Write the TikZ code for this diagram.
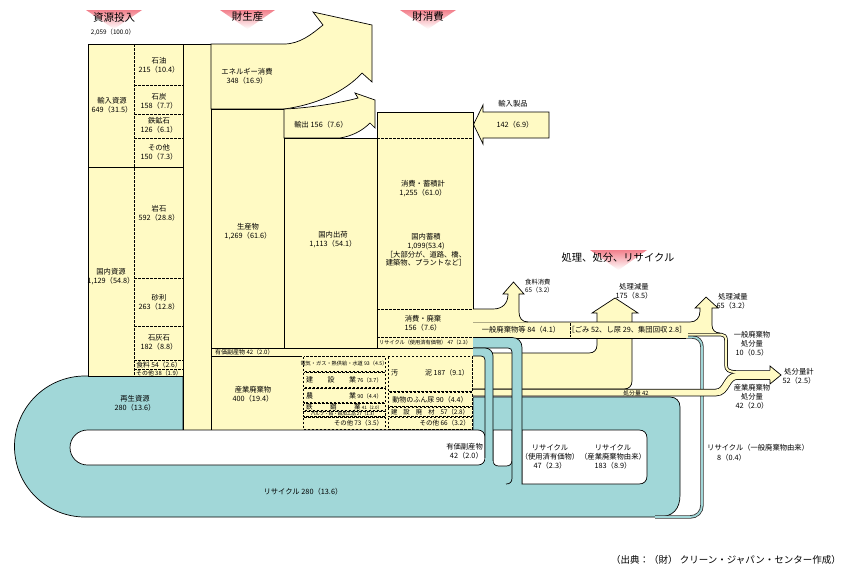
\documentclass[tikz,border=0pt]{standalone}
\usepackage{fontspec}
\setmainfont{Noto Sans CJK JP}
\definecolor{yel}{RGB}{255,250,196}
\definecolor{tea}{RGB}{161,215,216}
\definecolor{pk}{RGB}{242,128,140}
\begin{document}
\begin{tikzpicture}[x=1pt,y=-1pt,
 ol/.style={draw=black,line width=0.7pt},
 dsh/.style={draw=black,line width=0.6pt,dash pattern=on 2.5pt off 1.5pt},
 lb/.style={inner sep=0pt,align=center,font=\fontsize{7.3}{9}\selectfont},
 lbs/.style={inner sep=0pt,align=center,font=\fontsize{6.3}{8}\selectfont},
 tny/.style={inner sep=0pt,font=\fontsize{5.2}{6}\selectfont},
 ttl/.style={inner sep=0pt,font=\fontsize{10.5}{12}\selectfont},
 tri/.style={top color=pk,bottom color=white,draw=none}]
\useasboundingbox (0,0) rectangle (853,576);
\fill[white] (0,0) rectangle (853,576);
% title triangles
\shade[tri] (86,10) -- (142,10) -- (114,29) -- cycle;
\shade[tri] (220,10) -- (275,10) -- (247.5,29) -- cycle;
\shade[tri] (400,10) -- (456,10) -- (428,29) -- cycle;
\shade[tri] (590,250) -- (647,250) -- (618.5,270) -- cycle;
% teal recycle loop
\filldraw[fill=tea,ol] (183,376) -- (85,376) .. controls (46.1,376) and (14.5,407.6) .. (14.5,446.5) .. controls (14.5,485.4) and (46.1,517) .. (85,517) -- (658,517) .. controls (673,517) and (680,509) .. (680,495) -- (680,407) .. controls (680,401) and (676,397) .. (670,397) -- (473,397) -- (473,430) -- (183,430) -- cycle;
% column 1-2
\fill[yel] (88,44) rectangle (183,376);
\draw[ol] (88,44) rectangle (183,376);
\draw[dsh] (134,44) -- (134,376);
\draw[ol] (88,167) -- (183,167);
\foreach \yy in {85,114,138,278,326,360,369} \draw[dsh] (134,\yy) -- (183,\yy);
% column 3
\filldraw[fill=yel,ol] (183,44) rectangle (211,430);
% energy arrow
\filldraw[fill=yel,ol] (211,44) -- (284,44) .. controls (300,44) and (312,34) .. (323,25) -- (313,12) -- (372,25) -- (372,82) -- (362,73) .. controls (345,92) and (315,105) .. (284,109) -- (211,109) -- cycle;
\filldraw[fill=yel,ol] (211,109) rectangle (284,348);
% export arrow
\filldraw[fill=yel,ol] (284,109) .. controls (310,108) and (340,103) .. (358,98) -- (355,93) -- (375,100) -- (375,128) -- (370,123) .. controls (362,131) and (352,136) .. (340,138) -- (284,138) -- cycle;
\filldraw[fill=yel,ol] (284,138) rectangle (377,348);
% column 6
\fill[yel] (377,112) rectangle (473,348);
\draw[ol] (473,309) -- (473,112) -- (377,112) -- (377,348);
\draw[dsh] (377,138) -- (473,138);
\draw[dsh] (377,309) -- (473,309);
\draw[dsh] (377,337) -- (473,337);
% import products arrow
\filldraw[fill=yel,ol] (549,112) -- (483,112) -- (483,105) -- (473.5,124.5) -- (483,144) -- (483,138) -- (549,138) -- cycle;
% by-product row
\fill[yel] (211,348) rectangle (473,356);
\draw[ol] (473,348) -- (211,348) -- (211,356) -- (473,356);
% industrial waste
\filldraw[fill=yel,ol] (211,356) rectangle (302,430);
\fill[yel] (302,356) rectangle (473,430);
\draw[dsh] (303.5,356.5) rectangle (385,371.5);
\draw[dsh] (303.5,372.5) rectangle (385,387.5);
\draw[dsh] (303.5,388.5) rectangle (385,402.5);
\draw[dsh] (303.5,403.5) rectangle (385,410.5);
\draw[dsh] (303.5,411) rectangle (385,416.5);
\draw[dsh] (303.5,417.5) rectangle (385,429.5);
\draw[dsh] (388,356.5) rectangle (472,391.5);
\draw[dsh] (388,392.5) rectangle (472,406.5);
\draw[dsh] (388,407.5) rectangle (472,416.5);
\draw[dsh] (388,417.5) rectangle (472,429.5);
% white holes
\filldraw[fill=white,ol] (478,430) .. controls (482,430) and (485,433) .. (485,437) -- (485,458) .. controls (485,462) and (482,465) .. (478,465) -- (87.5,465) .. controls (77.8,465) and (70,457.2) .. (70,447.5) .. controls (70,437.8) and (77.8,430) .. (87.5,430) -- cycle;
\filldraw[fill=white,ol] (493,430) -- (512,430) -- (512,460) .. controls (512,464) and (510,466) .. (506,466) -- (499,466) .. controls (495,466) and (493,464) .. (493,460) -- cycle;
\filldraw[fill=white,ol] (522,430) -- (639,430) .. controls (644,430) and (647,433) .. (647,438) -- (647,476) .. controls (647,481) and (644,484) .. (639,484) -- (522,484) -- cycle;
% treatment reduction flow 175
\fill[yel] (473,353) -- (589,353) .. controls (594,353) and (597,350) .. (597,345) -- (597,313) -- (592,313) -- (615,298) -- (638,313) -- (632,313) -- (632,381) .. controls (632,386) and (629,389) .. (624,389) -- (473,389) -- cycle;
\draw[ol] (473,353) -- (589,353) .. controls (594,353) and (597,350) .. (597,345) -- (597,313) -- (592,313) -- (615,298) -- (638,313) -- (632,313) -- (632,381) .. controls (632,386) and (629,389) .. (624,389) -- (473,389);
% recycle pipe from general waste (8)
\draw[black!80,line width=3.4pt] (684,337) -- (692,337) .. controls (698,337) and (702,341) .. (702,347) -- (702,505) .. controls (702,512) and (697,517) .. (690,517) -- (655,517);
\draw[tea,line width=1.8pt] (684,337) -- (692,337) .. controls (698,337) and (702,341) .. (702,347) -- (702,505) .. controls (702,512) and (697,517) .. (690,517) -- (655,517);
% disposal band 42 and strip 10
\draw[black,line width=7.5pt] (473,392.5) -- (716,392.5) .. controls (727,392.5) and (726,376) .. (737,376) -- (772,376);
\draw[black,line width=3.5pt] (686,334.5) -- (721,334.5) .. controls (724,334.5) and (726,336.5) .. (726,340) -- (726,365) .. controls (726,370) and (729,372) .. (736,372) -- (772,372);
\draw[yel,line width=6pt] (473,392.5) -- (716,392.5) .. controls (727,392.5) and (726,376) .. (737,376) -- (772,376);
\draw[yel,line width=2pt] (686,334.5) -- (721,334.5) .. controls (724,334.5) and (726,336.5) .. (726,340) -- (726,365) .. controls (726,370) and (729,372) .. (736,372) -- (772,372);
\fill[yel] (770,366) -- (781,375) -- (770,384) -- cycle;
\draw[ol] (770,370.3) -- (770,366) -- (781,375) -- (770,384) -- (770,379.7);
% general waste band
\fill[yel] (473,322) rectangle (688,338);
\draw[ol] (473,338) -- (686,338);
\fill[yel] (473,322) -- (690,322) .. controls (696,322) and (700,318) .. (700,311) -- (700,308) -- (695,308) -- (706,297) -- (718,308) -- (712,308) -- (712,325) .. controls (712,330) and (715,333) .. (720,333) -- (687,333) -- (687,322) -- cycle;
\draw[ol] (473,322) -- (690,322) .. controls (696,322) and (700,318) .. (700,311) -- (700,308) -- (695,308) -- (706,297) -- (718,308) -- (712,308) -- (712,325) .. controls (712,330) and (715,333) .. (720,333);
% food consumption arrow
\fill[yel] (473,309) -- (493,309) .. controls (503,309) and (508,303) .. (508,294) -- (503,294) -- (513.5,282) -- (524,294) -- (519,294) -- (519,312) .. controls (519,318) and (522,322) .. (528,322) -- (473,322) -- cycle;
\draw[ol] (473,309) -- (493,309) .. controls (503,309) and (508,303) .. (508,294) -- (503,294) -- (513.5,282) -- (524,294) -- (519,294) -- (519,312) .. controls (519,318) and (522,322) .. (528,322);
\draw[dsh] (570,323) -- (570,337);
% pipe A (used valuables 47)
\fill[tea] (473,337.5) -- (512,337.5) .. controls (518,337.5) and (522,341.5) .. (522,347.5) -- (522,484) -- (512,484) -- (512,352) .. controls (512,349.5) and (510.5,348) .. (508,348) -- (473,348) -- cycle;
\draw[ol] (473,337.5) -- (512,337.5) .. controls (518,337.5) and (522,341.5) .. (522,347.5) -- (522,484);
\draw[ol] (473,348) -- (508,348) .. controls (510.5,348) and (512,349.5) .. (512,352) -- (512,478) .. controls (512,482) and (510,484) .. (506,484);
% pipe B (by-products 42)
\fill[tea] (473,348) -- (485,348) .. controls (489.5,348) and (493,351.5) .. (493,356) -- (493,466) -- (485,466) -- (485,360) .. controls (485,357.5) and (483.5,356) .. (481,356) -- (473,356) -- cycle;
\draw[ol] (473,348) -- (485,348) .. controls (489.5,348) and (493,351.5) .. (493,356) -- (493,461);
\draw[ol] (473,356) -- (481,356) .. controls (483.5,356) and (485,357.5) .. (485,360) -- (485,458);
% ---------- texts ----------
\node[ttl] (n1) at (114,18) {資源投入};
\node[lbs] (n2) at (113,32) {2,059（100.0）};
\node[ttl] (n3) at (247.5,17) {財生産};
\node[ttl] (n4) at (428,17) {財消費};
\node[inner sep=0pt,font=\fontsize{10.3}{12}\selectfont] (n5) at (618,258) {処理、処分、リサイクル};
\node[lb] (n6) at (112,105.5) {輸入資源\\649（31.5）};
\node[lb] (n7) at (111,276.5) {国内資源\\1,129（54.8）};
\node[lb] (n8) at (159,65.5) {石油\\215（10.4）};
\node[lb] (n9) at (159,101) {石炭\\158（7.7）};
\node[lb] (n10) at (159,125.5) {鉄鉱石\\126（6.1）};
\node[lb] (n11) at (159,152.5) {その他\\150（7.3）};
\node[lb] (n12) at (159,213.5) {岩石\\592（28.8）};
\node[lb] (n13) at (159,302.5) {砂利\\263（12.8）};
\node[lb] (n14) at (159,343) {石灰石\\182（8.8）};
\node[inner sep=0pt,font=\fontsize{6.7}{7}\selectfont] (n15) at (159,364.5) {食料 54（2.6）};
\node[inner sep=0pt,font=\fontsize{5.9}{6}\selectfont] (n16) at (159,372.8) {その他 38（1.9）};
\node[lb] (n17) at (247,76.5) {エネルギー消費\\348（16.9）};
\node[lb] (n18) at (248,231.5) {生産物\\1,269（61.6）};
\node[inner sep=0pt,anchor=west,font=\fontsize{6}{7}\selectfont] (n19) at (215,352.3) {有価副産物 42（2.0）};
\node[lb] (n20) at (253,394) {産業廃棄物\\400（19.4）};
\node[lb] (n21) at (321,124.5) {輸出 156（7.6）};
\node[lb] (n22) at (333,240) {国内出荷\\1,113（54.1）};
\node[lb] (n23) at (423,188.5) {消費・蓄積計\\1,255（61.0）};
\node[inner sep=0pt,align=center,font=\fontsize{7.3}{8.7}\selectfont] (n24) at (426,250) {国内蓄積\\1,099(53.4)\\［大部分が、道路、橋、\\建築物、プラントなど］};
\node[lb] (n25) at (423,323.5) {消費・廃棄\\156（7.6）};
\node[tny] (n26) at (425,342.8) {リサイクル（使用済有価物） 47（2.3）};
\node[lb] (n27) at (513,104) {輸入製品};
\node[lb] (n28) at (515,125) {142（6.9）};
\node[inner sep=0pt,font=\fontsize{5.2}{6}\selectfont] (n29) at (344,364) {電気・ガス・熱供給・水道 93（4.5）};
\node[inner sep=0pt,font=\fontsize{7}{8}\selectfont] (n30) at (344,380) {\makebox[76pt][s]{建\hfill 設\hfill 業\,{\fontsize{5.5}{6}\selectfont 76（3.7）}}};
\node[inner sep=0pt,font=\fontsize{7}{8}\selectfont] (n31) at (344,395.5) {\makebox[76pt][s]{農\hfill 業\,{\fontsize{5.5}{6}\selectfont 90（4.4）}}};
\node[inner sep=0pt,font=\fontsize{6.5}{7}\selectfont] (n32) at (344,406.8) {\makebox[76pt][s]{鉄\hfill 鋼\hfill 業\,{\fontsize{4.5}{5}\selectfont 41（2.0）}}};
\node[inner sep=0pt,font=\fontsize{4.5}{5}\selectfont] (n33) at (344,414) {パルプ・紙・紙加工品 27（1.3）};
\node[inner sep=0pt,anchor=east,font=\fontsize{6.3}{7}\selectfont] (n34) at (383,423.5) {その他 73（3.5）};
\node[inner sep=0pt,font=\fontsize{7}{8}\selectfont] (n35) at (430,373) {\makebox[78pt][s]{汚\hfill 泥 187（9.1）}};
\node[inner sep=0pt,font=\fontsize{7}{8}\selectfont] (n36) at (430,400) {動物のふん尿 90（4.4）};
\node[inner sep=0pt,font=\fontsize{6.3}{7}\selectfont] (n37) at (430,412) {\makebox[78pt][s]{建\hfill 設\hfill 廃\hfill 材\hfill 57（2.8）}};
\node[inner sep=0pt,anchor=east,font=\fontsize{6.5}{7}\selectfont] (n38) at (470,423.5) {その他 66（3.2）};
\node[lb] (n39) at (521,330) {一般廃棄物等 84（4.1）};
\node[lb] (n40) at (627,330) {［ごみ 52、し尿 29、集団回収 2.8］};
\node[lbs,anchor=west,align=left] (n41) at (525,286.5) {食料消費\\65（3.2）};
\node[lb] (n42) at (634,291.5) {処理減量\\175（8.5）};
\node[lb] (n43) at (733,301.5) {処理減量\\65（3.2）};
\node[lb] (n44) at (752,344) {一般廃棄物\\処分量\\10（0.5）};
\node[lb] (n45) at (799,376.5) {処分量計\\52（2.5）};
\node[lb] (n46) at (752,397) {産業廃棄物\\処分量\\42（2.0）};
\node[inner sep=0pt,font=\fontsize{5.8}{6}\selectfont] (n47) at (636,393) {処分量 42};
\node[lb,anchor=west] (n48) at (707,448) {リサイクル（一般廃棄物由来）};
\node[lb,anchor=west] (n49) at (717,458) {8（0.4）};
\node[lb] (n50) at (550,457) {リサイクル\\（使用済有価物）\\47（2.3）};
\node[lb] (n51) at (613,457) {リサイクル\\（産業廃棄物由来）\\183（8.9）};
\node[lb,anchor=east,align=right] (n52) at (483,451.5) {有価副産物\\42（2.0）};
\node[lb] (n53) at (135,403) {再生資源\\280（13.6）};
\node[lb] (n54) at (303,492) {リサイクル 280（13.6）};
\node[inner sep=0pt,anchor=east,font=\fontsize{9.5}{11}\selectfont] (n55) at (841,560) {（出典：（財） クリーン・ジャパン・センター作成）};
\end{tikzpicture}
\end{document}
